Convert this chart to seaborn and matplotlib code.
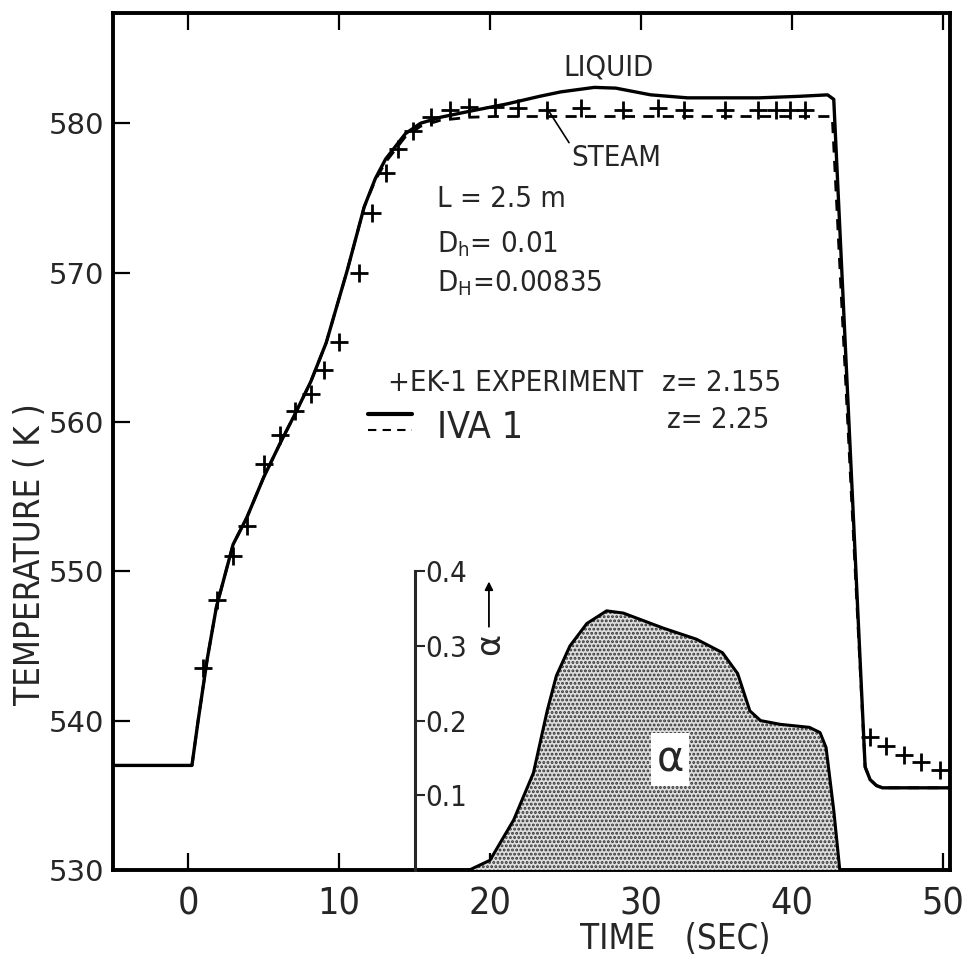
import matplotlib
matplotlib.use("Agg")
import matplotlib.pyplot as plt
import seaborn as sns
import pandas as pd
from matplotlib import font_manager

# ---------------- data ----------------
t_liquid = [-5, 0.24, 0.65, 1.25, 1.86, 2.97, 3.88, 5.0, 6.1, 7.11, 8.12, 9.14, 10.55,
            11.66, 12.4, 13.08, 14.39, 15.4, 16.72, 18.64, 21.16, 23.28, 24.7, 26.92,
            28.34, 30.66, 33.09, 35.41, 37.84, 40.46, 42.38, 42.79, 44.87, 45.2, 45.62,
            46.02, 47.5, 50.5]
T_liquid = [537, 537, 540, 544.1, 547.6, 551.8, 553.6, 556.3, 558.6, 560.6, 562.7,
            565.3, 570.2, 574.4, 576.3, 577.6, 579.3, 580.0, 580.4, 580.8, 581.3, 581.8,
            582.1, 582.4, 582.35, 581.9, 581.7, 581.7, 581.7, 581.8, 581.9, 581.6,
            536.9, 536.05, 535.65, 535.5, 535.5, 535.5]

t_steam = [-5, 0.24, 0.65, 1.25, 1.86, 2.97, 3.88, 5.0, 6.1, 7.11, 8.12, 9.14, 10.55,
           11.66, 12.4, 13.08, 14.39, 15.4, 16.72, 18.64, 20.25, 25.3, 30.36, 35.41,
           40.46, 42.69, 44.87, 45.2, 45.62, 46.02, 47.5, 50.5]
T_steam = [537, 537, 540, 544.1, 547.6, 551.8, 553.6, 556.3, 558.6, 560.6, 562.7,
           565.3, 570.2, 574.4, 576.2, 577.4, 579.1, 579.8, 580.2, 580.4, 580.45,
           580.45, 580.45, 580.45, 580.45, 580.45, 536.9, 536.05, 535.65, 535.5,
           535.5, 535.5]

t_exp = [0.95, 1.9, 2.97, 3.88, 5.0, 6.07, 7.07, 8.12, 8.99, 9.99, 11.31, 12.17, 13.08,
         13.89, 14.9, 16.11, 17.32, 18.64, 20.35, 21.87, 23.79, 26.01, 28.84, 31.17,
         32.88, 35.61, 37.74, 38.95, 39.86, 40.87, 45.22, 46.23, 47.44, 48.55, 49.86]
T_exp = [543.5, 548.1, 551.0, 553.0, 557.2, 559.1, 560.7, 561.9, 563.5, 565.35,
         570.0, 574.0, 576.7, 578.3, 579.5, 580.4, 580.9, 581.1, 581.1, 581.0,
         580.9, 581.0, 580.9, 581.0, 580.9, 580.9, 580.9, 580.9, 580.9, 580.9,
         538.9, 538.3, 537.7, 537.2, 536.7]

t_alpha = [15.0, 18.64, 20.0, 21.57, 22.88, 23.79, 24.4, 25.3, 26.42, 27.73, 28.84,
           31.47, 33.69, 35.41, 36.42, 37.23, 37.94, 39.25, 41.17, 41.88, 42.28, 42.79,
           43.19, 50.5]
alpha = [0.0, 0.0, 0.013, 0.067, 0.13, 0.213, 0.26, 0.30, 0.33, 0.347, 0.344, 0.324,
         0.309, 0.291, 0.263, 0.213, 0.2, 0.195, 0.191, 0.184, 0.164, 0.08, 0.0, 0.0]

x_ticks = [0, 10, 20, 30, 40, 50]
y_ticks = [530, 540, 550, 560, 570, 580]
alpha_ticks = [0.1, 0.2, 0.3, 0.4]
alpha_tick_labels = ["0.1", "0.2", "0.3", "0.4"]

# ---------------- style ----------------
sns.set_style("ticks")
plt.rcParams["font.family"] = ["DejaVu Sans"]
plt.rcParams["hatch.linewidth"] = 1.4

cond_path = None
prefs = ["LiberationSansNarrow-Regular", "DejaVuSansCondensed.ttf",
         "Condensed-Regular", "Narrow"]
files = [f.fname for f in font_manager.fontManager.ttflist]
for p in prefs:
    for fn in files:
        low = fn.lower()
        if p.lower() in low and not any(w in low for w in ("bold", "oblique", "italic")):
            cond_path = fn
            break
    if cond_path:
        break


def cfont(size):
    if cond_path:
        return font_manager.FontProperties(fname=cond_path, size=size)
    return font_manager.FontProperties(family="DejaVu Sans", stretch="condensed",
                                       size=size * 0.85)


fig = plt.figure(figsize=(9.65, 9.56), dpi=100)
ax = fig.add_axes([0.117, 0.090, 0.8675, 0.8967])

df_liq = pd.DataFrame({"t": t_liquid, "T": T_liquid})
df_st = pd.DataFrame({"t": t_steam, "T": T_steam})
df_exp = pd.DataFrame({"t": t_exp, "T": T_exp})

sns.lineplot(data=df_st, x="t", y="T", ax=ax, sort=False, estimator=None,
             color="black", linewidth=2.0, linestyle=(0, (4, 3)))
sns.lineplot(data=df_liq, x="t", y="T", ax=ax, sort=False, estimator=None,
             color="black", linewidth=2.4)
sns.scatterplot(data=df_exp, x="t", y="T", ax=ax, marker="+", s=150,
                color="black", linewidth=2.0, zorder=5)

ax.set_xlim(-5, 50.5)
ax.set_ylim(530, 587.4)
ax.set_xticks(x_ticks)
ax.set_yticks(y_ticks)
ax.set_xlabel("")
ax.set_ylabel("")
for s in ax.spines.values():
    s.set_linewidth(2.8)
    s.set_color("black")
ax.tick_params(axis="both", which="both", direction="in", length=12, width=1.6,
               top=True, right=True, color="black")
ax.set_xticklabels([str(v) for v in x_ticks])
for lab in ax.get_xticklabels():
    lab.set_fontproperties(cfont(27))
ax.tick_params(axis="x", pad=12)
ax.set_yticklabels([str(v) for v in y_ticks], family="DejaVu Sans", fontsize=21)
ax.tick_params(axis="y", pad=6)

fig.text(0.700, 0.000, "TIME   (SEC)", fontproperties=cfont(25),
         ha="center", va="bottom")
fig.text(0.031, 0.42, "TEMPERATURE ( K )", fontproperties=cfont(25), rotation=90,
         ha="center", va="center")

# ---------------- alpha inset ----------------
ax2 = ax.twinx()
ax2.set_ylim(0, (587.4 - 530) / 50.0)
for k in ["left", "top", "bottom"]:
    ax2.spines[k].set_visible(False)
ax2.spines["right"].set_position(("data", 15))
ax2.spines["right"].set_bounds(0, 0.4)
ax2.spines["right"].set_linewidth(2.2)
ax2.set_yticks(alpha_ticks)
ax2.set_yticklabels(alpha_tick_labels)
for lab in ax2.get_yticklabels():
    lab.set_fontproperties(cfont(21))
ax2.tick_params(axis="y", direction="out", length=7, width=1.5, pad=1)
ax2.fill_between(t_alpha, 0, alpha, facecolor="#dedede", edgecolor="#333333",
                 hatch="....", linewidth=0)
df_a = pd.DataFrame({"t": t_alpha, "a": alpha})
sns.lineplot(data=df_a, x="t", y="a", ax=ax2, sort=False, estimator=None,
             color="black", linewidth=2.2)
ax2.set_ylabel("")
ax2.text(31.94, 0.148, "α", fontsize=30, ha="center", va="center",
         family="DejaVu Sans",
         bbox=dict(facecolor="white", edgecolor="none", pad=4))
ax2.text(20.0, 0.303, "α", fontsize=24, ha="center", va="center",
         rotation=90, family="DejaVu Sans")
ax2.annotate("", xy=(19.93, 0.39), xytext=(19.93, 0.322),
             arrowprops=dict(arrowstyle="-|>", color="black", lw=1.3,
                             mutation_scale=12))

# ---------------- annotations ----------------
ax.text(27.83, 583.7, "LIQUID", fontproperties=cfont(21), ha="center", va="center")
ax.text(28.36, 577.7, "STEAM", fontproperties=cfont(21), ha="center", va="center")
ax.plot([23.78, 25.24], [581.0, 578.7], color="black", linewidth=1.2)

ax.text(16.49, 574.9, "L = 2.5 m", fontproperties=cfont(21), ha="left", va="center")
ax.text(16.49, 571.9, "D$_\\mathregular{h}$= 0.01", fontproperties=cfont(21),
        ha="left", va="center")
ax.text(16.49, 569.3, "D$_\\mathregular{H}$=0.00835", fontproperties=cfont(21),
        ha="left", va="center")

ax.text(13.24, 562.6, "+EK-1 EXPERIMENT", fontproperties=cfont(21), ha="left",
        va="center")
ax.text(31.4, 562.6, "z= 2.155", fontproperties=cfont(21), ha="left", va="center")
ax.text(16.49, 559.6, "IVA 1", fontproperties=cfont(27), ha="left", va="center")
ax.text(31.73, 560.1, "z= 2.25", fontproperties=cfont(21), ha="left", va="center")
ax.plot([0.305, 0.357], [0.532, 0.532], transform=ax.transAxes, color="black",
        linewidth=3.0)
ax.plot([0.305, 0.357], [0.513, 0.513], transform=ax.transAxes, color="black",
        linewidth=1.5, linestyle=(0, (4, 3)))

fig.savefig("out.png", dpi=100)
